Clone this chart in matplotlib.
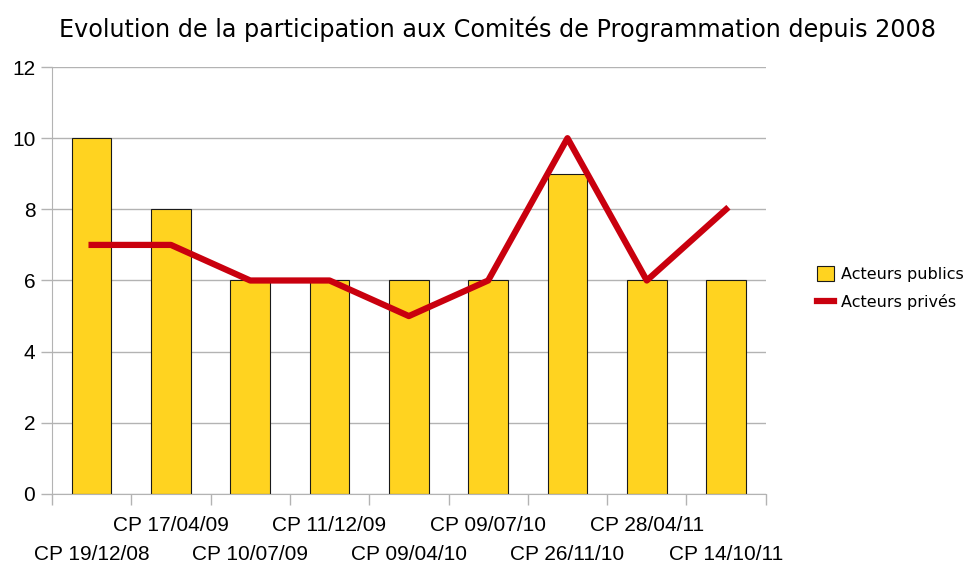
import numpy as np
import matplotlib.pyplot as plt

dates = ['CP 19/12/08', 'CP 17/04/09', 'CP 10/07/09', 'CP 11/12/09', 'CP 09/04/10',
         'CP 09/07/10', 'CP 26/11/10', 'CP 28/04/11', 'CP 14/10/11']
publics = [10, 8, 6, 6, 6, 6, 9, 6, 6]
prives = [7, 7, 6, 6, 5, 6, 10, 6, 8]

x = np.arange(len(dates))

fig = plt.figure(figsize=(9.73, 5.65), dpi=100)
ax = fig.add_axes([0.0534, 0.1257, 0.7336, 0.7557])

bars = ax.bar(x, publics, width=0.5, color='#FFD320', edgecolor='#1a1a1a', linewidth=0.8,
              label='Acteurs publics', zorder=2)
line, = ax.plot(x, prives, color='#C9000E', linewidth=4.5, label='Acteurs privés', zorder=3)

ax.set_xlim(-0.5, len(dates) - 0.5)
ax.set_ylim(0, 12)
ax.set_yticks(range(0, 13, 2))
ax.yaxis.grid(True, color='#B3B3B3', linewidth=1, zorder=0)
ax.set_axisbelow(True)

ax.set_xticks(x)
ax.set_xticklabels(dates, fontsize=15, family='Liberation Sans')
ax.set_xticks(np.arange(-0.5, len(dates)), minor=True)
ax.tick_params(axis='x', which='major', length=0)
ax.tick_params(axis='x', which='minor', length=8, color='#B3B3B3', width=1)
for i, t in enumerate(ax.xaxis.get_major_ticks()):
    t.set_pad(37 if i % 2 == 0 else 16)

ax.tick_params(axis='y', length=8, color='#B3B3B3', width=1, labelsize=15, pad=4)
for lab in ax.get_yticklabels():
    lab.set_family('Liberation Sans')

for s in ['top', 'right']:
    ax.spines[s].set_visible(False)
for s in ['left', 'bottom']:
    ax.spines[s].set_color('#B3B3B3')

fig.text(0.511, 0.948, 'Evolution de la participation aux Comités de Programmation depuis 2008',
         ha='center', va='center', fontsize=17.2, family='DejaVu Sans')

fig.legend([bars, line], ['Acteurs publics', 'Acteurs privés'],
           loc='center left', bbox_to_anchor=(0.828, 0.49), frameon=False, borderpad=0.2,
           prop={'family': 'DejaVu Sans', 'size': 11.5}, handlelength=1.1, handleheight=1.0,
           handletextpad=0.4, labelspacing=0.75)

fig.savefig('out.png', dpi=100)
